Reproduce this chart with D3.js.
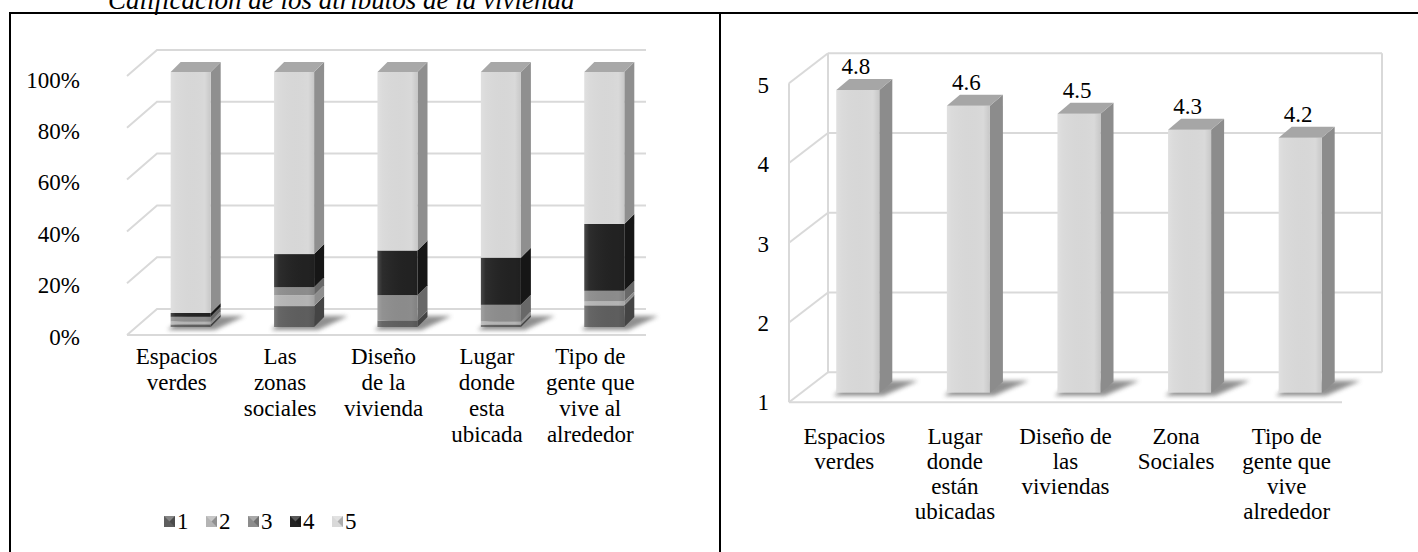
<!DOCTYPE html>
<html>
<head>
<meta charset="utf-8">
<script src="https://cdn.jsdelivr.net/npm/d3@7"></script>
<style>
  body { margin: 0; background: #fff; }
  svg { display: block; }
  text { font-family: "Liberation Serif", "Times New Roman", serif; fill: #000; }
</style>
</head>
<body>
<svg id="chart" width="1418" height="552"></svg>
<script>
// ---- Left chart: share of each rating (1-5) per attribute, in percent ----
const shareCategories = [
  ["Espacios", "verdes"],
  ["Las", "zonas", "sociales"],
  ["Diseño", "de la", "vivienda"],
  ["Lugar", "donde", "esta", "ubicada"],
  ["Tipo de", "gente que", "vive al", "alrededor"]
];
const ratingLevels = ["1", "2", "3", "4", "5"];
const shareRating1 = [1.0, 8.2, 2.5, 0.9, 8.5];
const shareRating2 = [1.2, 4.3, 0.0, 1.3, 1.5];
const shareRating3 = [1.8, 3.1, 10.0, 6.5, 4.2];
const shareRating4 = [1.5, 13.0, 17.5, 18.5, 26.2];
const shareRating5 = [94.5, 71.4, 70.0, 72.8, 59.6];
const percentTicks = [0, 20, 40, 60, 80, 100];

// ---- Right chart: mean score per attribute ----
const meanCategories = [
  ["Espacios", "verdes"],
  ["Lugar", "donde", "están", "ubicadas"],
  ["Diseño de", "las", "viviendas"],
  ["Zona", "Sociales"],
  ["Tipo de", "gente que", "vive", "alrededor"]
];
const meanScores = [4.8, 4.6, 4.5, 4.3, 4.2];
const scoreTicks = [1, 2, 3, 4, 5];

const titleText = "Calificación de los atributos de la vivienda";

const seriesFront = ["#5e5e5e", "#b4b4b4", "#8c8c8c", "#222222", "#d9d9d9"];
const seriesSide  = ["#444444", "#8e8e8e", "#686868", "#161616", "#8f8f8f"];
const gridColor = "#d9d9d9";
const fontPx = "23px";

const svg = d3.select("#chart");
const defs = svg.append("defs");
defs.append("filter").attr("id", "soft").attr("x", "-30%").attr("y", "-80%")
  .attr("width", "160%").attr("height", "260%")
  .append("feGaussianBlur").attr("stdDeviation", 2.2);
const sheen = defs.append("linearGradient").attr("id", "sheen")
  .attr("x1", "0").attr("x2", "1").attr("y1", "0").attr("y2", "0");
sheen.append("stop").attr("offset", "0").attr("stop-color", "#fff").attr("stop-opacity", 0.18);
sheen.append("stop").attr("offset", "0.12").attr("stop-color", "#fff").attr("stop-opacity", 0.05);
sheen.append("stop").attr("offset", "0.85").attr("stop-color", "#000").attr("stop-opacity", 0.0);
sheen.append("stop").attr("offset", "1").attr("stop-color", "#000").attr("stop-opacity", 0.08);

// Table frame and caption
svg.append("text").attr("x", 108).attr("y", 9)
  .style("font-size", "27px").style("font-style", "italic").text(titleText);
svg.append("line").attr("x1", 9).attr("x2", 1418).attr("y1", 13).attr("y2", 13)
  .attr("stroke", "#000").attr("stroke-width", 2);
svg.append("line").attr("x1", 10).attr("x2", 10).attr("y1", 12).attr("y2", 552)
  .attr("stroke", "#000").attr("stroke-width", 2);
svg.append("line").attr("x1", 720).attr("x2", 720).attr("y1", 12).attr("y2", 552)
  .attr("stroke", "#000").attr("stroke-width", 2);

const poly = pts => "M" + pts.map(p => p.join(",")).join("L") + "Z";

// ================= Left: 100% stacked 3D columns =================
(function () {
  const g = svg.append("g");
  const names = shareCategories.map(d => d.join(" "));
  const depthX = 30, depthY = 26;
  const floorFront = 335;
  const xLeft = 127, xRight = 646;

  const x = d3.scaleBand().domain(names).range([125, 642]);
  const yBack = d3.scaleLinear().domain([0, 100]).range([309, 50]);
  const yBar = d3.scaleLinear().domain([0, 100]).range([327, 72]);
  const yTick = d3.scaleLinear().domain([0, 100]).range([337, 80]);

  // gridlines: left wall diagonal + back wall line
  g.selectAll("path.grid").data(percentTicks).join("path")
    .attr("class", "grid")
    .attr("d", t => `M${xLeft},${yBack(t) + depthY}L${xLeft + depthX},${yBack(t)}L${xRight},${yBack(t)}`)
    .attr("fill", "none").attr("stroke", gridColor).attr("stroke-width", 2);
  g.append("line").attr("x1", xLeft).attr("x2", xRight)
    .attr("y1", floorFront).attr("y2", floorFront)
    .attr("stroke", gridColor).attr("stroke-width", 2);

  // y tick labels
  g.selectAll("text.tick").data(percentTicks).join("text")
    .attr("class", "tick").attr("x", 80).attr("y", yTick)
    .attr("text-anchor", "end").attr("dominant-baseline", "central")
    .style("font-size", fontPx).text(t => t + "%");

  const table = names.map((n, i) => ({
    name: n,
    "1": shareRating1[i], "2": shareRating2[i], "3": shareRating3[i],
    "4": shareRating4[i], "5": shareRating5[i]
  }));
  const stacked = d3.stack().keys(ratingLevels)(table);

  const w = 40, sx = 10, sy = 10;
  const barX = n => x(n) + x.bandwidth() / 2 - 6;

  // floor shadows
  g.selectAll("path.shadow").data(names).join("path")
    .attr("class", "shadow")
    .attr("d", n => {
      const x0 = barX(n), yb = yBar(0);
      return poly([[x0 - 3, yb + 3], [x0 + w + 4, yb + 3],
                   [x0 + w + sx + 24, yb - sy - 1], [x0 + sx + 4, yb - sy - 1]]);
    })
    .attr("fill", "#6a6a6a").attr("opacity", 0.75).attr("filter", "url(#soft)");

  names.forEach((n, i) => {
    const x0 = barX(n);
    const bg = g.append("g");
    stacked.forEach((layer, k) => {
      const [v0, v1] = layer[i];
      if (v1 - v0 <= 0) return;
      const yt = yBar(v1), yb = yBar(v0);
      bg.append("path")
        .attr("d", poly([[x0 + w, yt], [x0 + w + sx, yt - sy], [x0 + w + sx, yb - sy], [x0 + w, yb]]))
        .attr("fill", seriesSide[k]);
      bg.append("rect").attr("x", x0).attr("y", yt).attr("width", w).attr("height", yb - yt)
        .attr("fill", seriesFront[k]);
      bg.append("rect").attr("x", x0).attr("y", yt).attr("width", w).attr("height", yb - yt)
        .attr("fill", "url(#sheen)");
    });
    const top = stacked[stacked.length - 1][i][1];
    const yt = yBar(top);
    bg.append("path")
      .attr("d", poly([[x0, yt], [x0 + sx, yt - sy], [x0 + w + sx, yt - sy], [x0 + w, yt]]))
      .attr("fill", "#a8a8a8");
  });

  // category labels
  const lab = g.selectAll("text.cat").data(shareCategories).join("text")
    .attr("class", "cat").attr("text-anchor", "middle").style("font-size", fontPx);
  lab.each(function (lines, i) {
    const cx = x(names[i]) + x.bandwidth() / 2;
    d3.select(this).selectAll("tspan").data(lines).join("tspan")
      .attr("x", cx).attr("y", (d, j) => 356 + j * 26)
      .attr("dominant-baseline", "central").text(d => d);
  });

  // legend
  const lx = d3.scalePoint().domain(ratingLevels).range([164, 332]);
  const lg = g.selectAll("g.leg").data(ratingLevels).join("g").attr("class", "leg")
    .attr("transform", d => `translate(${lx(d)},521)`);
  lg.append("rect").attr("x", 0).attr("y", -5).attr("width", 11).attr("height", 11)
    .attr("fill", (d, i) => seriesFront[i]);
  lg.append("path").attr("d", "M0,-5L11,-5L5.5,0.5Z").attr("fill", "#fff").attr("opacity", 0.25);
  lg.append("path").attr("d", "M11,-5L11,6L5.5,0.5Z").attr("fill", "#000").attr("opacity", 0.2);
  lg.append("text").attr("x", 13).attr("y", 0.5).attr("dominant-baseline", "central")
    .style("font-size", fontPx).text(d => d);
})();

// ================= Right: 3D columns of mean score =================
(function () {
  const g = svg.append("g");
  const names = meanCategories.map(d => d.join(" "));
  const depthX = 39, depthY = 30;
  const wallFront = 789, wallBack = wallFront + depthX, wallRight = 1382;
  const floorFrontRight = 1342;

  const x = d3.scaleBand().domain(names).range([wallFront, floorFrontRight]);
  const yBack = d3.scaleLinear().domain([1, 5]).range([372.3, 53.3]);
  const yBar = d3.scaleLinear().domain([1, 5]).range([392.7, 74]);
  const yTick = d3.scaleLinear().domain([1, 5]).range([402.5, 85.5]);

  // back wall gridlines and frame
  g.selectAll("line.grid").data(scoreTicks).join("line").attr("class", "grid")
    .attr("x1", wallBack).attr("x2", wallRight).attr("y1", yBack).attr("y2", yBack)
    .attr("stroke", gridColor).attr("stroke-width", 2);
  g.append("line").attr("x1", wallBack).attr("x2", wallBack)
    .attr("y1", yBack(5)).attr("y2", yBack(1)).attr("stroke", gridColor).attr("stroke-width", 2);
  g.append("line").attr("x1", wallRight).attr("x2", wallRight)
    .attr("y1", yBack(5)).attr("y2", yBack(1)).attr("stroke", gridColor).attr("stroke-width", 2);
  // side wall
  g.selectAll("line.diag").data(scoreTicks).join("line").attr("class", "diag")
    .attr("x1", wallFront).attr("y1", t => yBack(t) + depthY)
    .attr("x2", wallBack).attr("y2", yBack)
    .attr("stroke", gridColor).attr("stroke-width", 2);
  g.append("line").attr("x1", wallFront).attr("x2", wallFront)
    .attr("y1", yBack(5) + depthY).attr("y2", yBack(1) + depthY)
    .attr("stroke", gridColor).attr("stroke-width", 2);
  // floor front edge
  g.append("line").attr("x1", wallFront).attr("x2", floorFrontRight)
    .attr("y1", yBack(1) + depthY).attr("y2", yBack(1) + depthY)
    .attr("stroke", gridColor).attr("stroke-width", 2);

  g.selectAll("text.tick").data(scoreTicks).join("text").attr("class", "tick")
    .attr("x", 769).attr("y", yTick).attr("text-anchor", "end")
    .attr("dominant-baseline", "central").style("font-size", fontPx).text(d => d);

  const w = 43, sx = 13, sy = 11;
  const barX = n => x(n) + x.bandwidth() / 2 - 8;

  g.selectAll("path.shadow").data(names).join("path").attr("class", "shadow")
    .attr("d", n => {
      const x0 = barX(n), yb = yBar(1);
      return poly([[x0 - 3, yb + 3], [x0 + w + 4, yb + 3],
                   [x0 + w + sx + 26, yb - sy - 1], [x0 + sx + 4, yb - sy - 1]]);
    })
    .attr("fill", "#6a6a6a").attr("opacity", 0.75).attr("filter", "url(#soft)");

  names.forEach((n, i) => {
    const x0 = barX(n), yt = yBar(meanScores[i]), yb = yBar(1);
    g.append("path")
      .attr("d", poly([[x0 + w, yt], [x0 + w + sx, yt - sy], [x0 + w + sx, yb - sy], [x0 + w, yb]]))
      .attr("fill", "#8c8c8c");
    g.append("rect").attr("x", x0).attr("y", yt).attr("width", w).attr("height", yb - yt)
      .attr("fill", "#d9d9d9");
    g.append("rect").attr("x", x0).attr("y", yt).attr("width", w).attr("height", yb - yt)
      .attr("fill", "url(#sheen)");
    g.append("path")
      .attr("d", poly([[x0, yt], [x0 + sx, yt - sy], [x0 + w + sx, yt - sy], [x0 + w, yt]]))
      .attr("fill", "#a6a6a6");
    g.append("text").attr("x", x0 + w / 2 - 2).attr("y", yt - 23)
      .attr("text-anchor", "middle").attr("dominant-baseline", "central")
      .style("font-size", fontPx).text(d3.format(".1f")(meanScores[i]));
  });

  const lab = g.selectAll("text.cat").data(meanCategories).join("text")
    .attr("class", "cat").attr("text-anchor", "middle").style("font-size", fontPx);
  lab.each(function (lines, i) {
    const cx = x(names[i]) + x.bandwidth() / 2;
    d3.select(this).selectAll("tspan").data(lines).join("tspan")
      .attr("x", cx).attr("y", (d, j) => 436 + j * 25)
      .attr("dominant-baseline", "central").text(d => d);
  });
})();
</script>
</body>
</html>
